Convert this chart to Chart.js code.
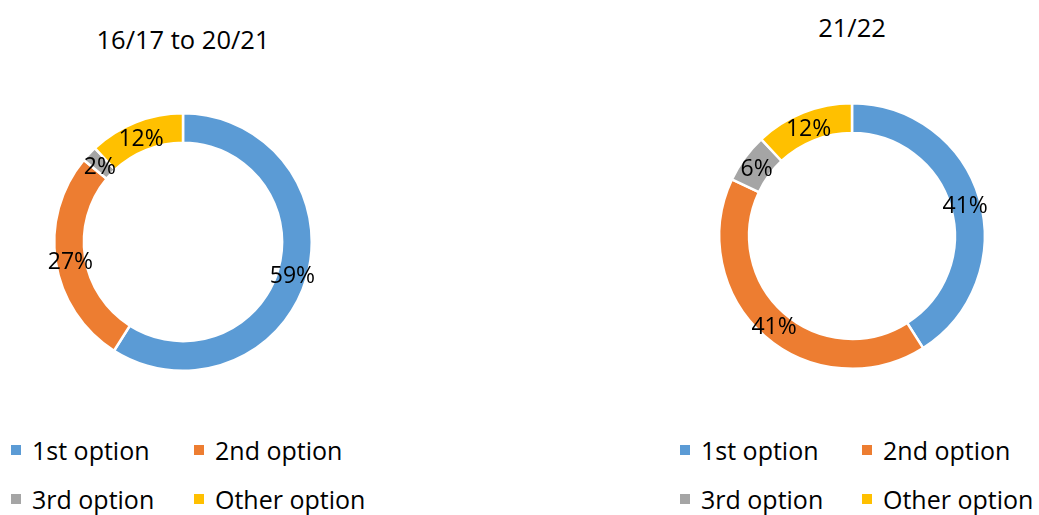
<!DOCTYPE html>
<html>
<head>
<meta charset="utf-8">
<script src="https://cdn.jsdelivr.net/npm/chart.js@4"></script>
<style>
  html, body { margin: 0; padding: 0; background: #fff; }
  body { width: 1039px; height: 515px; position: relative; overflow: hidden; font-family: "Open Sans", "Noto Sans", sans-serif; color: #000; }
  .title { position: absolute; font-size: 25.5px; transform: translate(-50%, -50%); white-space: nowrap; }
  .box { position: absolute; }
  .leg { position: absolute; font-size: 25px; white-space: nowrap; display: flex; align-items: center; }
  .leg i { display: inline-block; width: 10px; height: 10px; margin-right: 11px; }
</style>
</head>
<body>
<div class="title" style="left:183px; top:39px;" id="t1"></div>
<div class="title" style="left:852px; top:27px;" id="t2"></div>
<div class="box" style="left:33px; top:92px; width:300px; height:300px;"><canvas id="c1"></canvas></div>
<div class="box" style="left:702px; top:86px; width:300px; height:300px;"><canvas id="c2"></canvas></div>
<div id="legends"></div>
<script>
const categories = ["1st option", "2nd option", "3rd option", "Other option"];
const titles = ["16/17 to 20/21", "21/22"];
const values1 = [59, 27, 2, 12];
const values2 = [41, 41, 6, 12];
const colors = ["#5B9BD5", "#ED7D31", "#A5A5A5", "#FFC000"];

document.getElementById("t1").textContent = titles[0];
document.getElementById("t2").textContent = titles[1];

const labelPlugin = {
  id: "arcLabels",
  afterDatasetsDraw(chart) {
    const ctx = chart.ctx;
    const meta = chart.getDatasetMeta(0);
    const data = chart.data.datasets[0].data;
    ctx.save();
    ctx.font = '23px "Open Sans", "Noto Sans", sans-serif';
    ctx.fillStyle = "#000";
    ctx.textAlign = "center";
    ctx.textBaseline = "middle";
    meta.data.forEach((arc, i) => {
      const p = arc.getCenterPoint();
      ctx.fillText(data[i] + "%", p.x, p.y + 3);
    });
    ctx.restore();
  }
};

function makeChart(id, values, pad, cut) {
  new Chart(document.getElementById(id), {
    type: "doughnut",
    data: {
      labels: categories,
      datasets: [{
        data: values,
        backgroundColor: colors,
        borderColor: "#fff",
        borderWidth: 2.5,
        hoverOffset: 0
      }]
    },
    options: {
      responsive: true,
      maintainAspectRatio: false,
      animation: false,
      cutout: cut,
      layout: { padding: pad },
      plugins: { legend: { display: false }, tooltip: { enabled: false }, title: { display: false } }
    },
    plugins: [labelPlugin]
  });
}
makeChart("c1", values1, 20, "77%");
makeChart("c2", values2, 16, "77.5%");

// HTML legends
const legendPos = [
  { x: 11, y: 450, dx: 183, dy: 49 },
  { x: 680, y: 450, dx: 182, dy: 49 }
];
const lg = document.getElementById("legends");
legendPos.forEach(pos => {
  categories.forEach((c, i) => {
    const d = document.createElement("div");
    d.className = "leg";
    d.style.left = (pos.x + (i % 2) * pos.dx) + "px";
    d.style.top = (pos.y + Math.floor(i / 2) * pos.dy - 16) + "px";
    d.style.height = "32px";
    d.innerHTML = '<i style="background:' + colors[i] + '"></i>';
    d.appendChild(document.createTextNode(c));
    lg.appendChild(d);
  });
});
</script>
</body>
</html>
